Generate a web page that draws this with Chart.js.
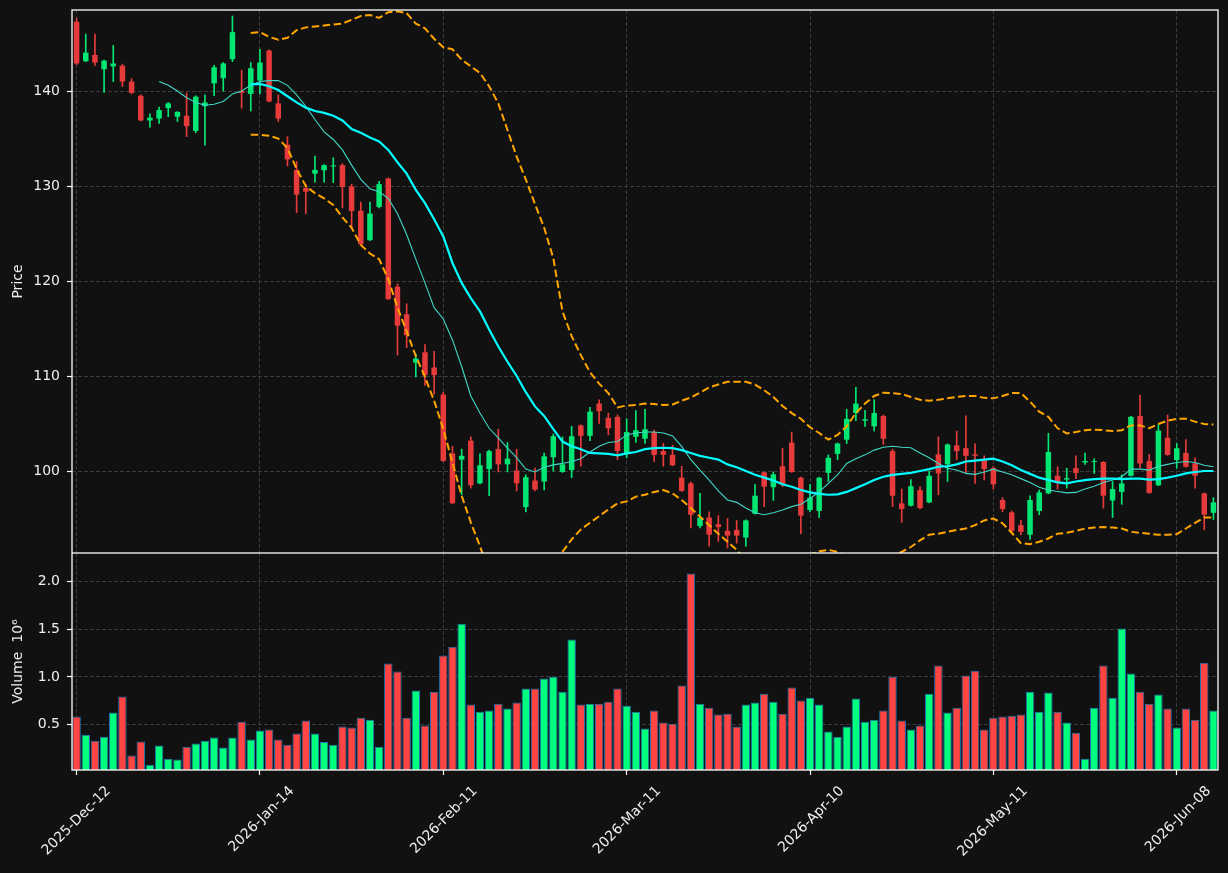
<!DOCTYPE html>
<html lang="en">
<head>
<meta charset="UTF-8">
<title>Price and Volume</title>
<style>
  body { margin: 0; background: #111111; }
  #wrap { position: relative; width: 1228px; height: 873px; }
  canvas { position: absolute; left: 0; }
  #priceChart { top: 0; }
  #volumeChart { top: 553px; }
</style>
</head>
<body>
<div id="wrap">
  <canvas id="priceChart" width="1228" height="553"></canvas>
  <canvas id="volumeChart" width="1228" height="320"></canvas>
</div>
<script src="https://cdn.jsdelivr.net/npm/chart.js"></script>
<script>
// x axis: one label every 20 bars
const tickLabels = ['2025-Dec-12', '2026-Jan-14', '2026-Feb-11', '2026-Mar-11', '2026-Apr-10', '2026-May-11', '2026-Jun-08'];
const tickIndex = [0, 20, 40, 60, 80, 100, 120];
const priceTicks = [100, 110, 120, 130, 140];
const volumeTicks = [0.5, 1.0, 1.5, 2.0];

const opens = [147.3,143.13,143.8,142.3,142.6,142.66,141.0,139.5,136.9,137.1,
  138.2,137.3,137.4,135.8,138.4,140.8,141.35,143.35,140.0,139.7,
  141.1,144.26,138.7,134.35,131.7,129.8,131.3,131.66,132.06,132.2,
  129.95,127.4,124.3,127.8,130.8,119.4,116.5,111.4,112.5,110.9,
  108.05,101.84,101.2,103.2,98.7,100.2,102.3,100.7,100.05,96.2,
  99.0,98.9,101.45,99.9,100.1,104.8,103.7,107.1,105.6,105.7,
  101.8,103.6,103.4,104.1,102.1,101.7,99.3,98.7,94.2,95.1,
  94.4,93.7,93.8,93.0,95.5,99.86,98.3,100.5,103.0,99.3,
  95.9,95.8,99.8,101.8,103.3,106.1,105.3,104.7,105.8,102.1,
  96.6,96.35,98.0,96.7,101.75,100.7,102.7,102.4,101.75,101.15,
  100.3,96.95,95.65,94.3,93.3,95.8,97.65,99.5,99.1,100.3,
  100.9,100.95,100.95,96.9,97.8,99.5,105.8,101.05,98.5,103.5,
  101.15,101.9,100.8,97.65,95.6];
const highs = [147.65,146.0,146.0,143.25,144.8,142.84,141.3,139.6,137.6,138.3,
  138.8,137.85,139.8,139.5,139.6,142.7,143.0,147.9,142.2,143.0,
  144.4,144.35,139.6,135.2,132.6,130.2,133.15,132.25,132.97,132.35,
  130.2,128.3,128.3,130.5,130.85,119.7,117.6,112.3,113.3,112.6,
  108.3,102.6,102.3,103.6,101.8,102.2,104.4,103.0,102.3,99.6,
  100.3,101.9,103.9,103.6,104.7,104.85,106.7,107.5,106.1,105.9,
  105.5,106.35,106.5,104.3,102.9,102.7,100.5,98.84,97.65,95.7,
  95.3,95.0,94.8,94.85,98.6,99.9,99.9,102.4,104.1,99.35,
  98.6,99.35,101.7,102.95,106.5,108.8,106.4,107.5,105.9,102.3,
  98.1,99.1,98.35,100.0,103.6,102.85,104.2,105.8,102.85,101.6,
  100.45,97.2,95.8,94.8,97.4,98.0,103.96,100.45,100.3,101.6,
  101.9,101.3,101.0,98.9,99.6,105.75,108.0,101.75,104.9,105.9,
  102.9,103.3,101.4,97.7,97.2];
const lows = [142.8,143.1,142.7,139.85,141.0,140.47,139.7,136.85,136.2,136.6,
  137.3,136.8,135.2,135.6,134.3,139.5,140.0,143.1,138.2,137.9,
  139.7,138.85,136.8,132.1,127.2,127.1,130.4,130.4,130.35,127.7,
  125.5,123.8,124.25,127.7,118.05,112.2,113.0,109.9,109.0,108.1,
  101.0,96.55,97.5,98.2,98.65,97.4,99.9,99.9,97.9,95.7,
  97.9,98.0,100.0,99.85,99.3,100.5,103.2,105.0,103.8,101.2,
  101.4,103.0,102.9,101.0,100.5,100.55,97.85,94.0,94.0,92.1,
  92.6,91.9,92.4,92.1,95.45,96.25,96.9,98.35,99.85,93.4,
  95.7,95.1,98.9,101.2,102.9,105.3,104.7,104.2,102.8,96.25,
  94.6,96.3,96.0,96.65,97.5,98.9,101.2,99.75,98.7,99.05,
  98.1,95.7,93.5,93.3,92.8,95.4,97.6,98.1,98.2,99.2,
  100.7,99.75,96.1,95.1,96.5,99.45,100.3,97.65,98.45,101.65,
  100.3,100.4,98.2,93.8,94.9];
const closes = [142.9,144.04,143.0,143.2,142.9,141.0,139.8,136.9,137.2,138.0,
  138.7,137.8,136.3,139.4,138.8,142.5,142.9,146.2,139.8,142.4,
  143.0,138.9,137.1,132.8,129.1,129.4,131.7,132.2,132.17,129.9,
  127.36,123.86,127.1,130.2,118.1,115.3,114.3,111.84,110.1,110.1,
  101.06,96.6,101.6,98.5,100.6,102.1,100.7,101.3,98.7,99.35,
  98.05,101.55,103.66,100.7,103.66,103.7,106.25,106.3,104.5,102.1,
  104.1,104.3,104.4,101.7,101.7,100.6,97.9,95.4,95.1,93.3,
  94.1,93.2,93.2,94.8,97.4,98.35,99.65,98.6,99.9,95.3,
  97.2,99.3,101.4,102.9,105.5,107.1,105.45,106.1,103.4,97.4,
  96.0,98.4,96.1,99.5,99.75,102.8,102.1,101.6,101.6,100.2,
  98.6,96.0,93.7,93.6,96.95,97.75,102.0,98.8,99.25,99.8,
  101.05,101.05,97.4,98.1,98.7,105.7,100.8,97.7,104.25,101.7,
  102.4,100.45,99.5,95.4,96.7];
// volume in millions
const volumes = [0.584,0.395,0.332,0.374,0.626,0.794,0.175,0.322,0.080,0.280,
  0.143,0.133,0.269,0.301,0.332,0.364,0.259,0.364,0.531,0.343,
  0.437,0.448,0.343,0.290,0.406,0.542,0.406,0.318,0.290,0.479,
  0.469,0.573,0.552,0.269,1.140,1.056,0.573,0.857,0.490,0.846,
  1.224,1.318,1.559,0.710,0.636,0.647,0.720,0.668,0.731,0.878,
  0.878,0.983,1.003,0.846,1.392,0.710,0.720,0.720,0.741,0.878,
  0.699,0.636,0.458,0.647,0.521,0.510,0.909,2.084,0.720,0.678,
  0.605,0.615,0.479,0.710,0.731,0.825,0.741,0.615,0.888,0.752,
  0.783,0.710,0.427,0.374,0.479,0.773,0.531,0.552,0.647,1.003,
  0.542,0.448,0.490,0.825,1.119,0.626,0.678,1.014,1.066,0.448,
  0.573,0.584,0.594,0.605,0.846,0.636,0.836,0.636,0.521,0.416,
  0.143,0.678,1.119,0.783,1.507,1.035,0.846,0.720,0.815,0.668,
  0.469,0.668,0.552,1.150,0.647];

const N9 = [null,null,null,null,null,null,null,null,null];
const N19 = N9.concat(N9, [null]);
const ma10 = N9.concat([141.0,140.6,140.0,139.3,138.8,138.5,138.6,138.9,139.7,140.0,140.6,141.0,
  141.1,141.1,140.6,139.6,138.4,137.0,135.7,134.9,133.8,132.2,130.7,129.7,129.4,128.7,127.1,124.9,122.3,119.8,117.2,116.0,
  113.8,111.0,107.9,106.1,104.5,103.5,102.4,101.4,100.2,99.9,100.4,100.65,100.8,101.0,101.3,102.0,102.6,103.0,103.1,103.8,
  104.0,104.1,104.1,104.0,103.7,102.6,101.2,100.1,99.05,97.9,96.95,96.7,96.1,95.6,95.4,95.6,95.9,96.25,96.5,97.1,
  97.8,98.7,99.6,100.8,101.3,101.7,102.2,102.5,102.6,102.5,102.45,101.9,101.4,100.8,100.3,100.1,99.75,99.65,99.9,100.2,
  99.9,99.6,99.2,98.8,98.3,98.0,97.85,97.7,97.75,98.1,98.4,98.8,99.05,99.4,100.2,100.2,100.1,100.5,100.7,100.9,
  101.0,100.9,100.6,100.45]);
const ma20 = N19.concat([140.7,140.75,
  140.5,140.1,139.45,138.8,138.25,137.9,137.7,137.4,136.9,136.0,135.6,135.1,134.7,133.8,132.5,131.3,129.6,128.2,126.5,124.7,
  121.9,119.8,118.2,116.8,114.9,113.1,111.5,110.0,108.3,106.8,105.8,104.4,103.1,102.6,102.3,101.9,101.85,101.8,101.65,101.85,
  102.0,102.3,102.4,102.45,102.4,102.2,101.9,101.6,101.4,101.2,100.7,100.4,100.0,99.6,99.3,99.0,98.6,98.35,98.0,97.75,
  97.6,97.5,97.55,97.8,98.2,98.6,99.05,99.4,99.6,99.7,99.8,100.0,100.2,100.45,100.5,100.7,101.0,101.1,101.2,101.3,
  101.0,100.6,100.1,99.7,99.3,99.05,98.8,98.7,98.9,99.05,99.15,99.2,99.2,99.15,99.2,99.2,99.1,99.15,99.3,99.5,
  99.75,99.9,100.0,100.0]);
const bbUpper = N19.concat([146.1,146.2,
  145.7,145.4,145.6,146.4,146.7,146.8,146.9,147.0,147.1,147.5,147.9,148.0,147.7,148.3,148.4,148.2,147.1,146.6,145.5,144.6,
  144.4,143.3,142.6,141.9,140.5,138.7,135.9,133.1,130.7,128.1,125.6,122.4,116.8,114.2,112.2,110.4,109.2,108.2,106.7,106.9,
  106.95,107.1,107.05,106.95,107.0,107.4,107.75,108.25,108.8,109.1,109.4,109.4,109.4,109.1,108.5,107.8,106.85,106.1,105.5,104.6,
  104.0,103.3,103.8,104.7,106.1,107.1,107.9,108.25,108.2,108.1,107.8,107.5,107.4,107.5,107.65,107.8,107.9,107.9,107.7,107.65,
  107.9,108.2,108.2,107.3,106.25,105.7,104.5,103.96,104.1,104.3,104.35,104.3,104.2,104.3,104.8,104.8,104.5,104.95,105.3,105.5,
  105.5,105.2,104.95,104.9]);
const bbLower = N19.concat([135.4,135.4,
  135.3,135.0,134.0,131.8,130.0,129.25,128.7,128.0,126.7,125.6,123.8,122.9,122.3,120.2,117.2,114.7,112.1,109.9,107.4,104.4,
  100.9,97.4,94.6,92.1,89.3,87.5,87.1,86.9,85.9,85.5,86.0,88.5,91.5,92.8,93.85,94.55,95.25,95.95,96.6,96.8,
  97.3,97.5,97.8,98.0,97.65,96.95,96.1,95.2,94.3,93.4,92.55,91.7,90.6,90.1,89.9,90.0,90.4,90.7,90.9,91.2,
  91.55,91.7,91.5,91.0,90.3,89.9,90.1,90.55,91.0,91.5,92.0,92.7,93.3,93.4,93.6,93.8,93.95,94.3,94.8,95.0,
  94.5,93.5,92.4,92.3,92.55,92.9,93.4,93.5,93.7,93.95,94.05,94.1,94.05,93.95,93.6,93.5,93.4,93.3,93.3,93.35,
  93.95,94.55,95.1,95.1]);

const labels = closes.map((c, i) => i);
const isUp = closes.map((c, i) => c >= opens[i]);
const candleColors = isUp.map(u => u ? '#02e774' : '#e73b3b');
const volumeColors = isUp.map(u => u ? '#00ff7f' : '#ff4444');

const textColor = '#eeeeee';
const gridColor = '#3a3a3a';
Chart.defaults.font.family = "'DejaVu Sans', sans-serif";
Chart.defaults.font.size = 14;
Chart.defaults.color = textColor;

const spines = {
  id: 'spines',
  afterDraw(chart) {
    const { ctx, chartArea: a } = chart;
    ctx.save();
    ctx.strokeStyle = '#ffffff';
    ctx.lineWidth = 1.3;
    ctx.strokeRect(a.left, a.top, a.right - a.left, a.bottom - a.top);
    ctx.restore();
  }
};

function noPad(s) { s.paddingTop = 0; s.paddingBottom = 0; s.paddingLeft = 0; s.paddingRight = 0; }

function xScale(showLabels) {
  return {
    offset: true,
    grid: { offset: false, color: gridColor, lineWidth: 1, drawTicks: showLabels,
            tickLength: 5, tickColor: '#ffffff', tickWidth: 1.2, tickBorderDash: [] },
    border: { display: false, dash: [4, 2] },
    ticks: { display: showLabels, autoSkip: false, minRotation: 45, maxRotation: 45,
             labelOffset: 32, padding: 8, color: textColor,
             callback: v => tickLabels[tickIndex.indexOf(v)] },
    afterBuildTicks: s => { s.ticks = tickIndex.map(v => ({ value: v })); },
    afterFit: s => { s.height = showLabels ? 103 : 0; noPad(s); }
  };
}

function yScale(min, max, ticks, title, fmt) {
  return {
    min: min, max: max,
    afterBuildTicks: s => { s.ticks = ticks.map(v => ({ value: v })); },
    afterFit: s => { s.width = 72; noPad(s); },
    grid: { color: gridColor, lineWidth: 1, tickLength: 5, tickColor: '#ffffff', tickWidth: 1.2, tickBorderDash: [] },
    border: { display: false, dash: [4, 2] },
    ticks: { padding: 7, color: textColor, callback: fmt },
    title: { display: true, text: title, color: textColor, padding: { top: 10, bottom: 0 } }
  };
}

const commonOpts = {
  responsive: false,
  animation: false,
  devicePixelRatio: 1,
  plugins: { legend: { display: false }, tooltip: { enabled: false } }
};

const line = (data, color, width, dash) => ({
  type: 'line', data: data, borderColor: color, borderWidth: width, borderDash: dash || [],
  pointRadius: 0, fill: false, order: 0
});

new Chart(document.getElementById('priceChart'), {
  type: 'bar',
  data: {
    labels: labels,
    datasets: [
      line(ma20, '#00ffff', 2.2),
      line(ma10, '#40d8c8', 1.1),
      line(bbUpper, '#ffa500', 2, [7.5, 3.5]),
      line(bbLower, '#ffa500', 2, [7.5, 3.5]),
      {
        data: opens.map((o, i) => [o, closes[i]]),
        backgroundColor: candleColors,
        barPercentage: 0.6, categoryPercentage: 1, grouped: false, order: 1
      },
      {
        data: lows.map((l, i) => [l, highs[i]]),
        backgroundColor: candleColors,
        barThickness: 1, grouped: false, order: 2
      }
    ]
  },
  options: Object.assign({}, commonOpts, {
    layout: { padding: { top: 10, right: 10, left: 0, bottom: 0 } },
    scales: {
      x: xScale(false),
      y: yScale(91.37, 148.53, priceTicks, 'Price', v => String(v))
    }
  }),
  plugins: [spines]
});

new Chart(document.getElementById('volumeChart'), {
  type: 'bar',
  data: {
    labels: labels,
    datasets: [{
      data: volumes,
      backgroundColor: volumeColors,
      borderColor: '#1f77b4',
      borderWidth: 1,
      barPercentage: 0.92, categoryPercentage: 1
    }]
  },
  options: Object.assign({}, commonOpts, {
    layout: { padding: { top: 0, right: 10, left: 0, bottom: 0 } },
    scales: {
      x: xScale(true),
      y: yScale(0.024, 2.30, volumeTicks, 'Volume  10\u2076', v => v.toFixed(1))
    }
  }),
  plugins: [spines]
});
</script>
</body>
</html>
